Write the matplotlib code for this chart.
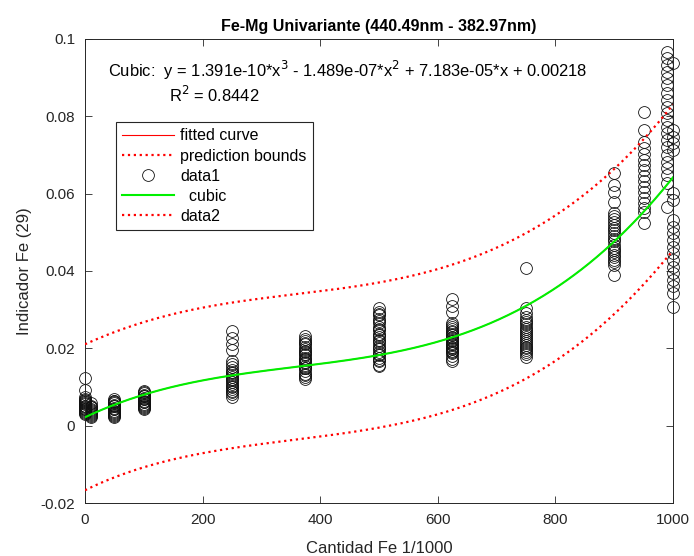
import numpy as np
import matplotlib
matplotlib.use('Agg')
import matplotlib.pyplot as plt
from matplotlib.ticker import FuncFormatter

plt.rcParams['font.family'] = ['Liberation Sans', 'DejaVu Sans']
plt.rcParams['axes.unicode_minus'] = False

# concentration levels (Cantidad Fe 1/1000) and measured indicator values
conc_levels = [0, 10, 50, 100, 250, 375, 500, 625, 750, 900, 950, 990, 1000]
indicator = [
    [0.0123, 0.0092, 0.0073, 0.0068, 0.0066, 0.0064, 0.006, 0.0058, 0.0056,
     0.0052, 0.005, 0.0048, 0.0045, 0.0044, 0.0042, 0.004, 0.0038, 0.0035,
     0.0032, 0.003],
    [0.0058, 0.0052, 0.0049, 0.0047, 0.0043, 0.0041, 0.0039, 0.0035, 0.0033,
     0.0031, 0.0027, 0.0025, 0.0023],
    [0.0068, 0.0065, 0.0063, 0.006, 0.0058, 0.0054, 0.0052, 0.005, 0.0046,
     0.0044, 0.0042, 0.0038, 0.0036, 0.0034, 0.003, 0.0028, 0.0026, 0.0022],
    [0.009, 0.0087, 0.0085, 0.008, 0.0078, 0.0076, 0.0072, 0.007, 0.0068,
     0.0064, 0.0062, 0.006, 0.0056, 0.0054, 0.0052, 0.0048, 0.0046, 0.0044],
    [0.0245, 0.0228, 0.0212, 0.0195, 0.0168, 0.016, 0.0152, 0.0145, 0.0138,
     0.0135, 0.0132, 0.0126, 0.012, 0.0117, 0.0114, 0.0108, 0.0102, 0.0099,
     0.0096, 0.009, 0.0087, 0.0082, 0.0075],
    [0.0232, 0.0225, 0.0218, 0.0215, 0.0211, 0.0204, 0.0197, 0.0193, 0.019,
     0.0186, 0.0183, 0.0176, 0.0172, 0.0169, 0.0165, 0.0162, 0.0155, 0.015,
     0.0148, 0.0141, 0.0134, 0.013, 0.0127, 0.0121],
    [0.0304, 0.0295, 0.029, 0.0285, 0.0275, 0.027, 0.0265, 0.0256, 0.025,
     0.0247, 0.0238, 0.0234, 0.023, 0.0222, 0.0218, 0.0214, 0.0206, 0.0202,
     0.0198, 0.019, 0.0186, 0.0182, 0.0174, 0.017, 0.0166, 0.0158, 0.0155],
    [0.0328, 0.031, 0.0293, 0.0265, 0.026, 0.0255, 0.025, 0.0246, 0.0242,
     0.0238, 0.0234, 0.023, 0.0226, 0.0222, 0.0218, 0.0215, 0.0211, 0.0208,
     0.0204, 0.0201, 0.0197, 0.0194, 0.019, 0.0187, 0.018, 0.0173, 0.0167],
    [0.0407, 0.0304, 0.0292, 0.028, 0.0273, 0.0268, 0.0262, 0.0256, 0.025,
     0.0245, 0.0239, 0.0234, 0.0229, 0.0224, 0.0219, 0.0214, 0.0209, 0.0204,
     0.02, 0.0195, 0.019, 0.0186, 0.0177],
    [0.0653, 0.0622, 0.0603, 0.0579, 0.055, 0.0542, 0.0535, 0.0527, 0.052,
     0.0512, 0.0505, 0.0497, 0.049, 0.0484, 0.0478, 0.0466, 0.046, 0.0454,
     0.0448, 0.0442, 0.0435, 0.0428, 0.0422, 0.0415, 0.039],
    [0.0812, 0.0765, 0.0734, 0.0718, 0.0702, 0.0688, 0.0674, 0.066, 0.0646,
     0.0632, 0.0618, 0.0604, 0.059, 0.0576, 0.0563, 0.0553, 0.0524],
    [0.0967, 0.095, 0.0933, 0.0915, 0.0898, 0.0881, 0.086, 0.0842, 0.0825,
     0.0808, 0.079, 0.0773, 0.0756, 0.0739, 0.0721, 0.07, 0.0683, 0.0666,
     0.0648, 0.0627, 0.0566],
    [0.0937, 0.0765, 0.0747, 0.073, 0.0713, 0.0601, 0.0584, 0.0532, 0.0515,
     0.0498, 0.048, 0.0463, 0.0446, 0.0428, 0.0411, 0.0394, 0.0377, 0.036,
     0.0342, 0.0308],
]

# cubic fit coefficients as printed on the chart (x^3, x^2, x, 1)
coefs = [1.391e-10, -1.489e-07, 7.183e-05, 0.00218]
r_squared = 0.8442

x = np.concatenate([[c] * len(v) for c, v in zip(conc_levels, indicator)]).astype(float)
y = np.concatenate(indicator)

# 95% observation prediction bounds around the cubic
resid = y - np.polyval(coefs, x)
n, p = len(x), 4
s2 = np.sum(resid ** 2) / (n - p)
X = np.vander(x / 1000.0, 4)
xtx_inv = np.linalg.inv(X.T @ X)
xf = np.linspace(0, 1000, 400)
Xf = np.vander(xf / 1000.0, 4)
yf = np.polyval(coefs, xf)
half = 1.97 * np.sqrt(s2 * (1 + np.einsum('ij,jk,ik->i', Xf, xtx_inv, Xf)))

fig = plt.figure(figsize=(6.94, 5.56), dpi=100)
ax = fig.add_axes([0.1225, 0.0953, 0.8472, 0.8346])

tc = '#262626'
green = '#00f000'
data1, = ax.plot(x, y, 'o', mfc='none', mec='#111111', ms=8.5, mew=0.6,
                 clip_on=False, label='data1', zorder=2)
ax.plot(xf, yf + half, ':', color='red', lw=1.6, zorder=3)
ax.plot(xf, yf - half, ':', color='red', lw=1.6, zorder=3)
fitted, = ax.plot(xf, yf, '-', color='red', lw=0.8, zorder=3)
cubic, = ax.plot(xf, yf, '-', color=green, lw=1.5, zorder=4)

h_fit, = ax.plot([], [], '-', color='red', lw=0.8)
h_pb, = ax.plot([], [], ':', color='red', lw=1.6)
h_d2, = ax.plot([], [], ':', color='red', lw=1.6)
leg = ax.legend([h_fit, h_pb, data1, cubic, h_d2],
                ['fitted curve', 'prediction bounds', 'data1', '  cubic', 'data2'],
                loc='upper left', bbox_to_anchor=(0.0527, 0.821), fontsize=11.5,
                frameon=True, fancybox=False, edgecolor=tc, framealpha=1,
                borderaxespad=0, labelspacing=0.32, handlelength=3.25,
                handletextpad=0.35, borderpad=0.4)
leg.get_frame().set_linewidth(0.8)

ax.text(0.039, 0.932, 'Cubic:  y = 1.391e-10*x$^3$ - 1.489e-07*x$^2$ + 7.183e-05*x + 0.00218',
        transform=ax.transAxes, fontsize=11.9, color='black', va='center')
ax.text(0.142, 0.88, 'R$^2$ = 0.8442', transform=ax.transAxes, fontsize=11.9,
        color='black', va='center')

ax.set_xlim(0, 1000)
ax.set_ylim(-0.02, 0.1)
ax.set_xticks(np.arange(0, 1001, 200))
ax.set_yticks(np.arange(-0.02, 0.1001, 0.02))
ax.yaxis.set_major_formatter(FuncFormatter(lambda v, pos: '%g' % round(v, 4)))
ax.tick_params(direction='in', top=True, right=True, length=5, width=0.6,
               labelsize=11, colors=tc, pad=7)
for sp in ax.spines.values():
    sp.set_color(tc)
    sp.set_linewidth(0.7)

ax.set_xlabel('Cantidad Fe 1/1000', fontsize=12, color=tc, labelpad=10)
ax.set_ylabel('Indicador Fe (29)', fontsize=12, color=tc, labelpad=6)
ax.set_title('Fe-Mg Univariante (440.49nm - 382.97nm)', fontsize=11.5,
             fontweight='bold', color='black', pad=6)

fig.savefig('out.png', dpi=100)
